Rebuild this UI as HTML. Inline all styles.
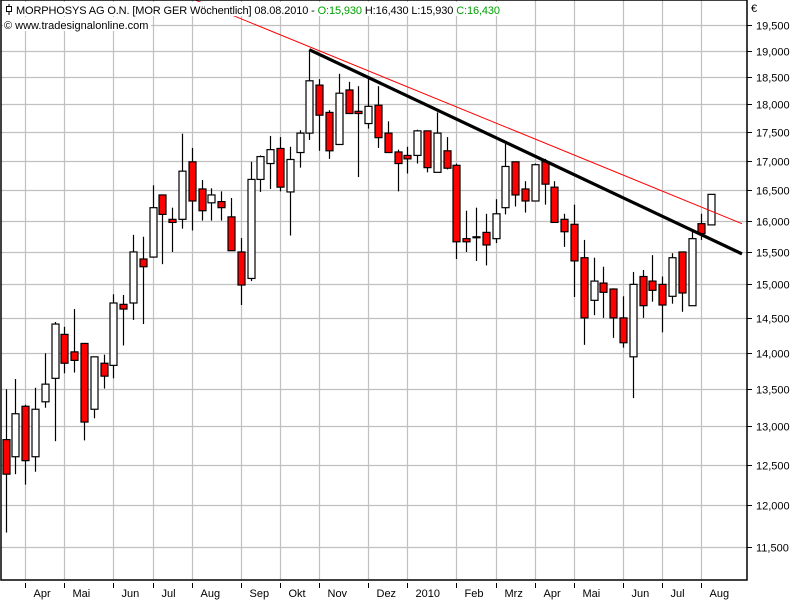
<!DOCTYPE html>
<html><head><meta charset="utf-8"><style>
html,body{margin:0;padding:0;background:#fff;}
svg{display:block;font-family:"Liberation Sans",sans-serif;}
</style></head><body>
<svg id="chart" width="800" height="600" viewBox="0 0 800 600" xmlns="http://www.w3.org/2000/svg">
<rect x="0" y="0" width="800" height="600" fill="#fff"/>
<g id="grid"></g>
<g id="candles"></g>
<g id="trend"></g>
<rect x="1" y="0" width="746" height="580" fill="none" stroke="#000" stroke-width="1.5"/>
<g id="axes"></g>
<g>
<rect x="3" y="2" width="500" height="14" fill="#fff"/>
<rect x="3" y="17" width="148" height="14" fill="#fff"/>
<g><line x1="9" y1="4" x2="9" y2="15" stroke="#000"/><rect x="6.5" y="6.5" width="5" height="5" fill="#fff" stroke="#000"/></g>
<text x="16" y="14" font-size="11" fill="#000" textLength="484">MORPHOSYS AG O.N. [MOR GER  Wöchentlich] 08.08.2010 - <tspan fill="#00a000">O:15,930</tspan> H:16,430 L:15,930 <tspan fill="#00a000">C:16,430</tspan></text>
<text x="4" y="29" font-size="11" fill="#000">© www.tradesignalonline.com</text>
</g>
<text x="751" y="12" font-size="11" fill="#000">€</text>
</svg>
<script>
const opens  = [12820,12600,13260,12600,13320,13640,14260,14010,14130,13220,13850,13820,14700,14720,15390,15420,16420,16020,16020,16980,16520,16290,16310,16060,15500,15090,16680,16950,17210,16470,17140,17480,18350,17850,17280,18260,17870,17650,17980,17480,17150,17090,17090,17520,16800,17170,16920,15710,15740,15810,15710,16210,16980,16520,16320,16980,16550,16020,15940,15410,14760,15020,14930,14500,13940,15120,15050,15000,14820,15500,14680,15950,15930];
const highs  = [13490,13630,13280,13510,13990,14440,14370,14630,14130,13940,13970,14850,14840,15770,15740,16580,16420,16210,17470,17220,16670,16530,16480,16370,15720,16980,17090,17430,17410,17240,17530,19020,18460,17890,18560,18410,18330,18480,18330,17690,17190,17240,17540,17520,17850,17410,16950,16160,16210,16110,16350,17290,16980,16650,16950,17030,16650,16110,16260,15690,15410,15270,14940,14820,15190,15220,15450,15120,15480,15500,15820,16110,16430];
const lows   = [11670,12380,12250,12410,13240,12800,13710,13720,12810,13100,13500,13640,14100,14470,14410,15410,15310,15500,15870,15840,16000,16000,16000,15520,14690,15050,16470,16520,16480,15760,16880,17360,17170,17030,17280,17830,16720,17560,17220,17140,16480,16780,16950,16800,16800,16850,15390,15500,15360,15290,15640,16100,16230,16130,16320,16260,15970,15580,14810,14110,14540,14500,14210,14070,13370,14500,14740,14290,14710,14590,14680,15690,15930];
const closes = [12380,13160,12550,13220,13560,14410,13850,13890,13050,13940,13670,14720,14630,15500,15270,16210,16100,15970,16820,16320,16160,16420,16210,15520,14990,16680,17070,17190,16550,17020,17480,18430,17800,17170,18200,17830,17830,17960,17400,17140,16950,17030,17520,16880,17480,16870,15660,15660,15730,15610,16110,16900,16420,16320,16930,16600,15970,15820,15360,14500,15050,14880,14500,14140,15000,14680,14910,14690,15410,14870,15710,15790,16430];
const yTicks = [19500,19000,18500,18000,17500,17000,16500,16000,15500,15000,14500,14000,13500,13000,12500,12000,11500];
const monthIdx = [2,6,11,15,19,24,28,32,37,41,46,50,54,58,63,67,71];
const monthLabels = ["Apr","Mai","Jun","Jul","Aug","Sep","Okt","Nov","Dez","2010","Feb","Mrz","Apr","Mai","Jun","Jul","Aug"];
const blackTrendIdx = [31,75.15];
const blackTrendPrice = [19020,15470];
const redTrendIdx = [19.34,75.15];
const redTrendPrice = [20000,15950];

const NS="http://www.w3.org/2000/svg";
function xS(i){return 5.5+i*9.8;}
function yS(p){return 25+988.6*(Math.log(19500)-Math.log(p));}
function mk(tag,attrs,parent){const e=document.createElementNS(NS,tag);for(const k in attrs)e.setAttribute(k,attrs[k]);parent.appendChild(e);return e;}
const grid=document.getElementById('grid'),axes=document.getElementById('axes'),cg=document.getElementById('candles'),tg=document.getElementById('trend');

yTicks.forEach(function(v){
  const y=Math.round(yS(v))+0.5;
  const g=mk('line',{x1:1,x2:747,y1:y,y2:y,stroke:'#c0c0c0','stroke-width':1.2},grid);
  
  
  const t=mk('line',{x1:747,x2:752,y1:y,y2:y,stroke:'#000'},axes);
  
  
  const l=mk('text',{x:756,y:y+4,'font-size':11,fill:'#000'},axes);
  l.textContent=v.toLocaleString('en-US');
  
  
});
monthIdx.forEach(function(m,k){
  const x=Math.round(xS(m))+0.5;
  const g=mk('line',{x1:x,x2:x,y1:0,y2:580,stroke:'#c0c0c0','stroke-width':1.2},grid);
  
  
  const t=mk('line',{x1:x,x2:x,y1:583,y2:588,stroke:'#000'},axes);
  
  
  const l=mk('text',{x:x+8,y:597,'font-size':11,fill:'#000'},axes);
  l.textContent=monthLabels[k];
  
  
});
opens.forEach(function(o,i){
  const c=closes[i],x=Math.round(xS(i))+0.5;
  const g=mk('g',{},cg);
  
  
  mk('line',{x1:x,x2:x,y1:yS(highs[i]),y2:yS(lows[i]),stroke:'#000','stroke-width':1.2},g);
  const top=yS(Math.max(o,c)),bot=yS(Math.min(o,c));
  mk('rect',{x:x-3.5,y:top,width:7,height:Math.max(1,bot-top),fill:c<o?'#ff0000':'#ffffff',stroke:'#000','stroke-width':1.2},g);
});
const bl=mk('line',{x1:xS(blackTrendIdx[0]),y1:yS(blackTrendPrice[0]),x2:xS(blackTrendIdx[1]),y2:yS(blackTrendPrice[1]),stroke:'#000','stroke-width':3.2},tg);


const rl=mk('line',{x1:xS(redTrendIdx[0]),y1:yS(redTrendPrice[0]),x2:xS(redTrendIdx[1]),y2:yS(redTrendPrice[1]),stroke:'#ff0000','stroke-width':1},tg);


</script>
</body></html>
